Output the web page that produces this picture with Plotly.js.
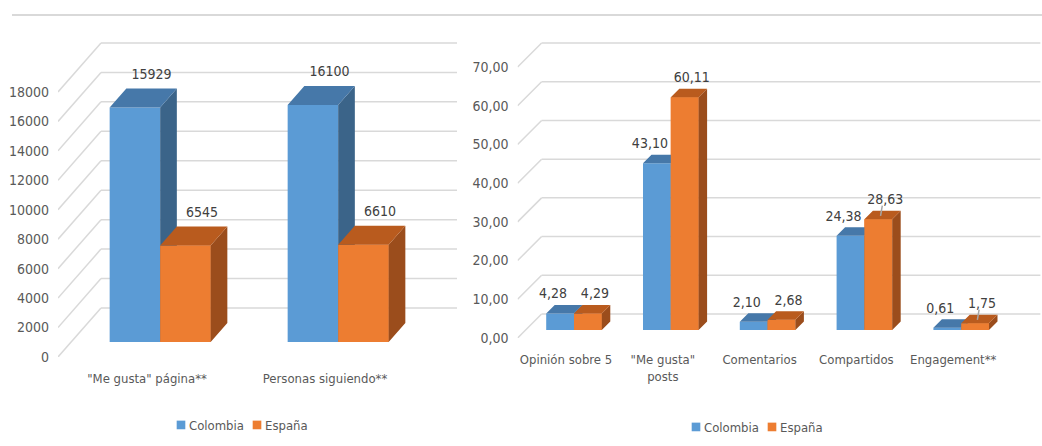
<!DOCTYPE html>
<html>
<head>
<meta charset="utf-8">
<script src="https://cdn.plot.ly/plotly-3.0.1.min.js"></script>
<style>html,body{margin:0;padding:0;background:#fff;}#chart{width:1042px;height:446px;}</style>
</head>
<body>
<div id="chart"></div>
<script>
// ---------- DATA ----------
const leftCategories = ['"Me gusta" página**', 'Personas siguiendo**'];
const leftColombia = [15929, 16100];
const leftEspana = [6545, 6610];
const leftTicks = [0, 2000, 4000, 6000, 8000, 10000, 12000, 14000, 16000, 18000];

const rightCategories = ['Opinión sobre 5', '"Me gusta"<br>posts', 'Comentarios', 'Compartidos', 'Engagement**'];
const rightColombia = [4.28, 43.10, 2.10, 24.38, 0.61];
const rightEspana = [4.29, 60.11, 2.68, 28.63, 1.75];
const rightTicks = [0, 10, 20, 30, 40, 50, 60, 70];

const seriesNames = ['Colombia', 'España'];

// ---------- STYLE / GEOMETRY ----------
const W = 1042, H = 446;
const FONT = '"Liberation Sans Narrow", "Arial Narrow", "DejaVu Sans Condensed", sans-serif';
const TXT = '#595959';
const GRID = '#d9d9d9';
const colors = {
  front: ['#5b9bd5', '#ed7d31'],
  top:   ['#4678a9', '#b95b1e'],
  side:  ['#3b6489', '#9b4d1c']
};

const cfgL = {xa: 'x', ya: 'y', c0: 147, S: 178, DX: 43, DY: 49, zeroPx: 357, ppu: 29.45 / 2000,
  topPx: 38, BW: 50.5, f1: 15, bd: 19, extraRight: 0, legend: 'legend',
  labelMode: 'back', labelLift: 6, labelShift: [0, 0], leaders: [[], []]};
const cfgR = {xa: 'x2', ya: 'y2', c0: 566, S: 96.8, DX: 24, DY: 24, zeroPx: 338, ppu: 38.71 / 10,
  topPx: 34, BW: 27.8, f1: 8, bd: 8.5, extraRight: 15, legend: 'legend2',
  labelMode: 'front', labelLift: 3, labelShift: [-7, 7], leaders: [[], [3, 4]]};

const traces = [];
const shapes = [];
const axes = {};

function build(cfg, cats, series, ticks, fmtTick, fmtLabel) {
  const n = cats.length;
  const sx = d => d * (cfg.DX / cfg.DY) / cfg.S;
  const sy = d => d / cfg.ppu;
  const BWu = cfg.BW / cfg.S;
  const xEnd = n - 0.5 + (cfg.DX + cfg.extraRight) / cfg.S;
  const xDom = [(cfg.c0 - 0.5 * cfg.S) / W,
                (cfg.c0 + (n - 0.5) * cfg.S + cfg.DX + cfg.extraRight) / W];
  const yDom = [(H - cfg.zeroPx) / H, (H - cfg.topPx) / H];
  const xName = cfg.xa === 'x' ? 'xaxis' : 'xaxis' + cfg.xa.slice(1);
  const yName = cfg.ya === 'y' ? 'yaxis' : 'yaxis' + cfg.ya.slice(1);
  const idx = cats.map((c, i) => i);

  axes[xName] = {domain: xDom, range: [-0.5, xEnd], anchor: cfg.ya, tickmode: 'array',
    tickvals: idx, ticktext: cats, showgrid: false, zeroline: false, showline: false, ticks: '',
    ticklabelstandoff: 12, fixedrange: true, tickfont: {family: FONT, size: 13, color: TXT}};
  axes[yName] = {domain: yDom, range: [0, (cfg.zeroPx - cfg.topPx) / cfg.ppu], anchor: cfg.xa,
    tickmode: 'array', tickvals: ticks, ticktext: ticks.map(fmtTick), showgrid: false,
    zeroline: false, showline: false, ticks: '', ticklabelstandoff: 8, fixedrange: true,
    tickfont: {family: FONT, size: 14, color: TXT}};

  // back-wall gridlines with side-wall diagonals
  ticks.forEach(t => {
    const x0 = -0.5, y0 = t, x1 = -0.5 + sx(cfg.DY), y1 = t + sy(cfg.DY);
    shapes.push({type: 'line', xref: cfg.xa, yref: cfg.ya, x0: x0, y0: y0, x1: x1, y1: y1,
      line: {color: GRID, width: 1.5}, layer: 'below'});
    shapes.push({type: 'line', xref: cfg.xa, yref: cfg.ya, x0: x1, y0: y1, x1: xEnd, y1: y1,
      line: {color: GRID, width: 1.5}, layer: 'below'});
  });

  const faces = series.map((vals, s) => {
    const f = {front: {x: [], y: []}, side: {x: [], y: []}, top: {x: [], y: []}};
    vals.forEach((v, i) => {
      const xl = i - BWu + s * BWu + sx(cfg.f1), xr = xl + BWu;
      const yb = sy(cfg.f1), yt = v + sy(cfg.f1);
      const ddx = sx(cfg.bd), ddy = sy(cfg.bd);
      const push = (o, pts) => { pts.forEach(p => { o.x.push(p[0]); o.y.push(p[1]); }); o.x.push(null); o.y.push(null); };
      push(f.front, [[xl, yb], [xr, yb], [xr, yt], [xl, yt]]);
      push(f.side, [[xr, yb], [xr + ddx, yb + ddy], [xr + ddx, yt + ddy], [xr, yt]]);
      push(f.top, [[xl, yt], [xr, yt], [xr + ddx, yt + ddy], [xl + ddx, yt + ddy]]);
    });
    return f;
  });

  // front faces as bars (legend entries)
  series.forEach((vals, s) => {
    traces.push({type: 'bar', name: seriesNames[s], xaxis: cfg.xa, yaxis: cfg.ya, legend: cfg.legend,
      x: vals.map((v, i) => i - BWu / 2 + s * BWu + sx(cfg.f1)), y: vals, base: sy(cfg.f1),
      width: BWu, marker: {color: colors.front[s], line: {width: 0}}, hoverinfo: 'skip', showlegend: true});
  });

  const poly = (o, col) => ({type: 'scatter', mode: 'lines', x: o.x, y: o.y, fill: 'toself',
    fillcolor: col, line: {width: 0, color: col}, xaxis: cfg.xa, yaxis: cfg.ya,
    hoverinfo: 'skip', showlegend: false});
  // painter's order: Colombia faces, then España (front repeated to occlude)
  traces.push(poly(faces[0].side, colors.side[0]));
  traces.push(poly(faces[0].top, colors.top[0]));
  traces.push(poly(faces[1].front, colors.front[1]));
  traces.push(poly(faces[1].side, colors.side[1]));
  traces.push(poly(faces[1].top, colors.top[1]));

  // data labels (+ short leader lines where Excel drew them)
  series.forEach((vals, s) => {
    const fcs = vals.map((v, i) => i - BWu / 2 + s * BWu + sx(cfg.f1));
    const xs = fcs.map(fc => (cfg.labelMode === 'back' ? fc + sx(cfg.bd) : fc) + cfg.labelShift[s] / cfg.S);
    const ys = vals.map(v => v + sy(cfg.f1 + cfg.bd) + cfg.labelLift / cfg.ppu);
    traces.push({type: 'scatter', mode: 'text', x: xs, y: ys, text: vals.map(fmtLabel),
      textposition: 'top center', textfont: {family: FONT, size: 14, color: '#404040'},
      xaxis: cfg.xa, yaxis: cfg.ya, cliponaxis: false, hoverinfo: 'skip', showlegend: false});
    cfg.leaders[s].forEach(i => {
      shapes.push({type: 'line', xref: cfg.xa, yref: cfg.ya,
        x0: xs[i] - 3 / cfg.S, y0: ys[i] + 2 / cfg.ppu,
        x1: fcs[i] + sx(cfg.bd / 2) - 2 / cfg.S, y1: vals[i] + sy(cfg.f1 + cfg.bd / 2) - 1 / cfg.ppu,
        line: {color: '#a6a6a6', width: 1.5}});
    });
  });
}

build(cfgL, leftCategories, [leftColombia, leftEspana], leftTicks, t => String(t), v => String(v));
build(cfgR, rightCategories, [rightColombia, rightEspana], rightTicks,
  t => t.toFixed(2).replace('.', ','), v => v.toFixed(2).replace('.', ','));

// chart top border line
shapes.push({type: 'line', xref: 'paper', yref: 'paper', x0: 12 / W, x1: 1, y0: (H - 15) / H, y1: (H - 15) / H,
  line: {color: '#d9d9d9', width: 2}});

const legendStyle = (xl, yc, ew) => ({orientation: 'h', x: xl, xanchor: 'left', y: (H - yc) / H, yanchor: 'middle',
  font: {family: FONT, size: 13, color: TXT}, bgcolor: 'rgba(0,0,0,0)', itemwidth: 30,
  entrywidth: ew, entrywidthmode: 'pixels', traceorder: 'normal'});

const layout = Object.assign({
  width: W, height: H, margin: {l: 0, r: 0, t: 0, b: 0},
  paper_bgcolor: '#ffffff', plot_bgcolor: 'rgba(0,0,0,0)',
  barmode: 'overlay', separators: ',.',
  font: {family: FONT, color: TXT},
  showlegend: true,
  legend: legendStyle(149 / W, 425, 31),
  legend2: legendStyle(664 / W, 427, 31),
  shapes: shapes
}, axes);

Plotly.newPlot('chart', traces, layout, {displayModeBar: false, staticPlot: true}).then(gd => {
  // compact Excel-like legend keys: smaller square sitting right next to its text
  gd.querySelectorAll('.infolayer .legendpoints path').forEach(p => {
    p.setAttribute('transform', 'translate(32,0) scale(0.72)');
  });
  // let the compact entries show their full text
  gd.querySelectorAll('.infolayer [clip-path]').forEach(e => {
    if (e.closest('.legend, .legend2')) e.removeAttribute('clip-path');
  });
});
</script>
</body>
</html>
